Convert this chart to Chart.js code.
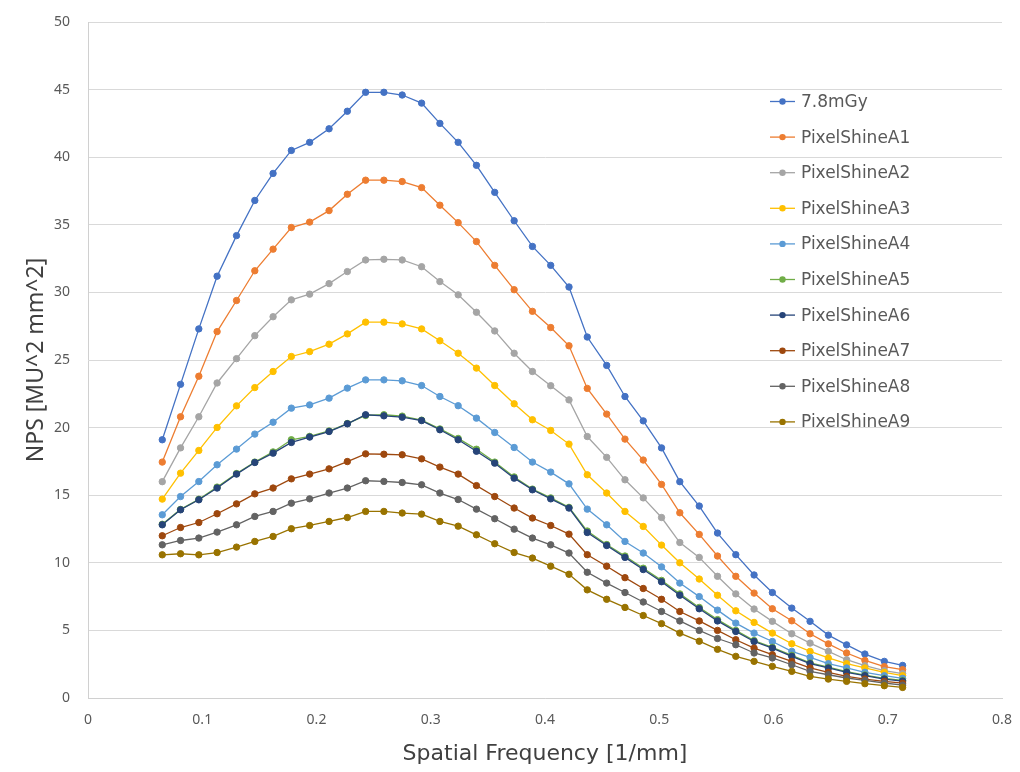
<!DOCTYPE html>
<html>
<head>
<meta charset="utf-8">
<script src="https://cdn.jsdelivr.net/npm/chart.js@4/dist/chart.umd.min.js"></script>
<style>
html,body{margin:0;padding:0;background:#fff;}
#c{display:block;}
</style>
</head>
<body>
<canvas id="c" width="1020" height="772"></canvas>
<script>
const freq = [0.065,0.081,0.097,0.113,0.130,0.146,0.162,0.178,0.194,0.211,0.227,0.243,0.259,0.275,0.292,0.308,0.324,0.340,0.356,0.373,0.389,0.405,0.421,0.437,0.454,0.470,0.486,0.502,0.518,0.535,0.551,0.567,0.583,0.599,0.616,0.632,0.648,0.664,0.680,0.697,0.713];

const seriesNames = ["7.8mGy","PixelShineA1","PixelShineA2","PixelShineA3","PixelShineA4","PixelShineA5","PixelShineA6","PixelShineA7","PixelShineA8","PixelShineA9"];

const dose78 = [19.1,23.2,27.3,31.2,34.2,36.8,38.8,40.5,41.1,42.1,43.4,44.8,44.8,44.6,44.0,42.5,41.1,39.4,37.4,35.3,33.4,32.0,30.4,26.7,24.6,22.3,20.5,18.5,16.0,14.2,12.2,10.6,9.1,7.8,6.65,5.67,4.65,3.93,3.25,2.71,2.41];
const psA1 = [17.45,20.8,23.8,27.1,29.4,31.6,33.2,34.8,35.2,36.05,37.26,38.3,38.3,38.2,37.75,36.45,35.16,33.76,32.0,30.2,28.6,27.4,26.05,22.9,21.0,19.15,17.6,15.8,13.7,12.1,10.5,9.0,7.76,6.6,5.71,4.75,4.0,3.33,2.78,2.32,2.1];
const psA2 = [16.0,18.5,20.8,23.3,25.1,26.8,28.2,29.45,29.87,30.65,31.54,32.4,32.45,32.4,31.9,30.8,29.82,28.53,27.15,25.5,24.15,23.1,22.05,19.34,17.8,16.14,14.8,13.35,11.5,10.4,9.0,7.7,6.58,5.67,4.75,4.06,3.45,2.83,2.39,2.02,1.8];
const psA3 = [14.71,16.63,18.31,20.01,21.61,22.96,24.15,25.26,25.62,26.17,26.93,27.8,27.8,27.67,27.3,26.42,25.5,24.4,23.11,21.76,20.58,19.79,18.78,16.51,15.16,13.8,12.69,11.31,10.0,8.8,7.6,6.45,5.59,4.8,4.01,3.45,2.96,2.54,2.22,1.9,1.65];
const psA4 = [13.55,14.9,16.01,17.25,18.41,19.52,20.4,21.44,21.68,22.18,22.92,23.53,23.53,23.46,23.11,22.3,21.62,20.7,19.64,18.53,17.45,16.71,15.84,13.97,12.81,11.58,10.72,9.7,8.5,7.5,6.5,5.54,4.8,4.18,3.45,3.0,2.54,2.22,1.9,1.65,1.45];
const psA5 = [12.85,13.95,14.7,15.6,16.6,17.45,18.2,19.1,19.35,19.75,20.3,20.9,20.95,20.85,20.55,19.9,19.2,18.4,17.45,16.35,15.45,14.8,14.1,12.35,11.35,10.5,9.6,8.7,7.7,6.7,5.8,5.0,4.25,3.75,3.15,2.6,2.28,1.95,1.7,1.45,1.3];
const psA6 = [12.81,13.92,14.66,15.53,16.56,17.42,18.11,18.9,19.3,19.71,20.28,20.95,20.87,20.77,20.52,19.84,19.1,18.25,17.37,16.26,15.4,14.73,14.05,12.24,11.28,10.4,9.5,8.6,7.6,6.6,5.7,4.92,4.18,3.69,3.08,2.54,2.22,1.9,1.65,1.4,1.25];
const psA7 = [12.0,12.61,12.98,13.63,14.36,15.1,15.53,16.21,16.56,16.95,17.49,18.06,18.03,17.99,17.69,17.08,16.56,15.71,14.9,14.05,13.31,12.76,12.12,10.6,9.75,8.9,8.1,7.3,6.4,5.7,5.0,4.31,3.69,3.2,2.71,2.22,1.9,1.6,1.4,1.23,1.1];
const psA8 = [11.33,11.65,11.83,12.27,12.81,13.43,13.8,14.41,14.73,15.16,15.53,16.07,16.02,15.94,15.77,15.16,14.68,13.97,13.26,12.49,11.83,11.33,10.72,9.3,8.5,7.8,7.1,6.4,5.7,5.0,4.4,3.94,3.33,2.96,2.46,1.97,1.72,1.48,1.3,1.11,0.95];
const psA9 = [10.59,10.67,10.59,10.76,11.16,11.58,11.95,12.52,12.76,13.06,13.35,13.8,13.8,13.68,13.6,13.06,12.71,12.07,11.41,10.76,10.35,9.75,9.15,8.0,7.3,6.7,6.1,5.5,4.8,4.2,3.6,3.08,2.71,2.34,1.97,1.6,1.4,1.23,1.06,0.91,0.78];

const seriesValues = [dose78, psA1, psA2, psA3, psA4, psA5, psA6, psA7, psA8, psA9];
const seriesColors = ["#4472C4","#ED7D31","#A5A5A5","#FFC000","#5B9BD5","#70AD47","#264478","#9E480E","#636363","#997300"];

const xTitle = "Spatial Frequency [1/mm]";
const yTitle = "NPS [MU^2 mm^2]";

const datasets = seriesNames.map((name, i) => ({
  label: name,
  data: freq.map((x, j) => ({x: x, y: seriesValues[i][j]})),
  borderColor: seriesColors[i],
  backgroundColor: seriesColors[i],
  pointBackgroundColor: seriesColors[i],
  pointBorderColor: seriesColors[i],
  borderWidth: 1.3,
  pointRadius: 3.2,
  pointBorderWidth: 1,
  tension: 0,
  fill: false,
  order: seriesNames.length - i
}));

const legendInside = {
  id: 'legendInside',
  afterDraw(chart) {
    const ctx = chart.ctx;
    ctx.save();
    ctx.font = '17px "DejaVu Sans", sans-serif';
    ctx.textBaseline = 'middle';
    ctx.textAlign = 'left';
    chart.data.datasets.forEach((ds, i) => {
      const y = 101.5 + i * 35.6;
      ctx.strokeStyle = ds.borderColor;
      ctx.lineWidth = 1.3;
      ctx.beginPath();
      ctx.moveTo(770, y);
      ctx.lineTo(795, y);
      ctx.stroke();
      ctx.fillStyle = ds.borderColor;
      ctx.beginPath();
      ctx.arc(782.5, y, 3.2, 0, Math.PI * 2);
      ctx.fill();
      ctx.fillStyle = '#595959';
      ctx.fillText(ds.label, 801, y + 1);
    });
    ctx.restore();
  }
};

new Chart(document.getElementById('c'), {
  type: 'line',
  data: { datasets: datasets },
  options: {
    responsive: false,
    animation: false,
    devicePixelRatio: 1,
    layout: { padding: { top: 22, right: 18, left: 0, bottom: 0 } },
    plugins: {
      legend: { display: false },
      tooltip: { enabled: false },
      title: { display: false }
    },
    scales: {
      x: {
        type: 'linear',
        min: 0, max: 0.8,
        ticks: { stepSize: 0.1, color: '#595959', font: { size: 14, family: '"Noto Sans", sans-serif' }, padding: 14 },
        grid: { display: false, drawTicks: false },
        border: { display: true, color: '#d0d0d0', width: 1 },
        title: { display: true, text: xTitle, color: '#404040', font: { size: 22, family: '"DejaVu Sans", sans-serif' }, padding: { top: 0, bottom: 5 } },
        afterFit(scale) { scale.height = 74; scale.paddingLeft = 0; scale.paddingRight = 0; }
      },
      y: {
        type: 'linear',
        min: 0, max: 50,
        ticks: { stepSize: 5, color: '#595959', font: { size: 14, family: '"Noto Sans", sans-serif' }, padding: 18 },
        grid: { color: '#d9d9d9', lineWidth: 1, drawTicks: false },
        border: { display: true, color: '#d0d0d0', width: 1 },
        title: { display: true, text: yTitle, color: '#404040', font: { size: 23, family: '"Noto Sans", sans-serif' }, padding: { top: 23, bottom: 0 } },
        afterFit(scale) { scale.width = 88; scale.paddingTop = 0; scale.paddingBottom = 0; }
      }
    }
  },
  plugins: [legendInside]
});
</script>
</body>
</html>
